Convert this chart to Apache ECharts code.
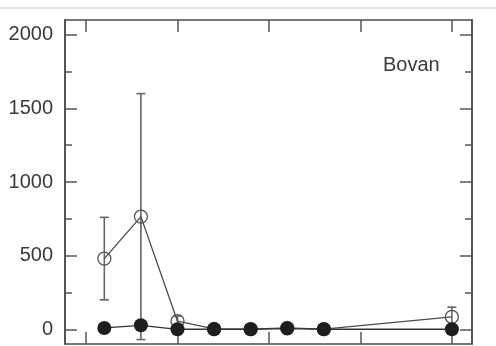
<!DOCTYPE html>
<html><head><meta charset="utf-8">
<script src="https://cdn.jsdelivr.net/npm/echarts@6/dist/echarts.min.js"></script>
<style>html,body{margin:0;padding:0;background:#fff}#c{width:496px;height:346px}</style>
</head><body><div id="c"></div>
<script>
// data
var xValues = [1, 3, 5, 7, 9, 11, 13, 20];
var openMean = [480, 765, 55, 2, 1, 10, 1, 84];
var openErr  = [280, 835, 35, 0, 0, 0, 0, 66];
var filledMean = [9, 27, 0, 0, 0, 5, 0, 0];
var yMajorTicks = [0, 500, 1000, 1500, 2000];
var yMinorTicks = [250, 750, 1250, 1750];
var xTicks = [0, 5, 10, 15, 20];
var panelLabel = 'Bovan';

var openData = xValues.map(function (x, i) { return [x, openMean[i]]; });
var filledData = xValues.map(function (x, i) { return [x, filledMean[i]]; });
var errData = [];
xValues.forEach(function (x, i) {
  if (openErr[i] > 0) errData.push([x, openMean[i] - openErr[i], openMean[i] + openErr[i]]);
});

var axisColor = '#4a4a4a';
function yAx(pos, ticks, len, labels) {
  return {
    type: 'value', position: pos, min: -100, max: 2100,
    axisLine: { show: true, onZero: false, lineStyle: { color: axisColor, width: 1.5 } },
    axisTick: { show: true, inside: true, length: len, customValues: ticks, lineStyle: { color: '#555', width: 1.5 } },
    axisLabel: labels ? { show: true, customValues: ticks, formatter: function (v) { return String(v); }, color: '#3a3a3a', fontSize: 20, fontFamily: 'Liberation Sans, Arial, sans-serif', margin: 12 } : { show: false },
    splitLine: { show: false }
  };
}
function xAx(pos) {
  return {
    type: 'value', position: pos, min: -1.15, max: 21.1,
    axisLine: { show: true, onZero: false, lineStyle: { color: axisColor, width: 1.5 } },
    axisTick: { show: true, inside: true, length: 12, customValues: xTicks, lineStyle: { color: '#555', width: 1.5 } },
    axisLabel: { show: false },
    splitLine: { show: false }
  };
}

var chart = echarts.init(document.getElementById('c'), null, { renderer: 'canvas' });
chart.setOption({
  animation: false,
  backgroundColor: '#fff',
  grid: { left: 65, right: 24, top: 20, bottom: 2, containLabel: false },
  xAxis: [xAx('bottom'), xAx('top')],
  yAxis: [yAx('left', yMajorTicks, 12, true), yAx('left', yMinorTicks, 7, false), yAx('right', yMajorTicks, 12, false), yAx('right', yMinorTicks, 7, false)],
  graphic: [
    { type: 'line', shape: { x1: 0, y1: 8, x2: 496, y2: 8 }, style: { stroke: '#c4c4c4', lineWidth: 1.2 } },
    { type: 'text', left: 383, top: 55, style: { text: panelLabel, fill: '#3a3a3a', font: '20px "Liberation Sans", Arial, sans-serif' } }
  ],
  series: [
    {
      type: 'custom', xAxisIndex: 0, yAxisIndex: 0, data: errData, z: 1,
      renderItem: function (params, api) {
        var x = api.value(0);
        var lo = api.coord([x, api.value(1)]);
        var hi = api.coord([x, api.value(2)]);
        var w = 4.5;
        var st = { stroke: '#666', lineWidth: 1.6 };
        return { type: 'group', children: [
          { type: 'line', shape: { x1: lo[0], y1: lo[1], x2: hi[0], y2: hi[1] }, style: st },
          { type: 'line', shape: { x1: lo[0] - w, y1: lo[1], x2: lo[0] + w, y2: lo[1] }, style: st },
          { type: 'line', shape: { x1: hi[0] - w, y1: hi[1], x2: hi[0] + w, y2: hi[1] }, style: st }
        ] };
      }
    },
    {
      type: 'line', xAxisIndex: 0, yAxisIndex: 0, data: openData, z: 2,
      symbol: 'circle', symbolSize: 13,
      lineStyle: { color: '#4a4a4a', width: 1.3 },
      itemStyle: { color: 'rgba(255,255,255,0)', borderColor: '#555', borderWidth: 1.3 }
    },
    {
      type: 'line', xAxisIndex: 0, yAxisIndex: 0, data: filledData, z: 3,
      symbol: 'circle', symbolSize: 14,
      lineStyle: { color: '#333', width: 1.3 },
      itemStyle: { color: '#1e1e1e', borderColor: '#1e1e1e', borderWidth: 0 }
    }
  ]
});
</script></body></html>
